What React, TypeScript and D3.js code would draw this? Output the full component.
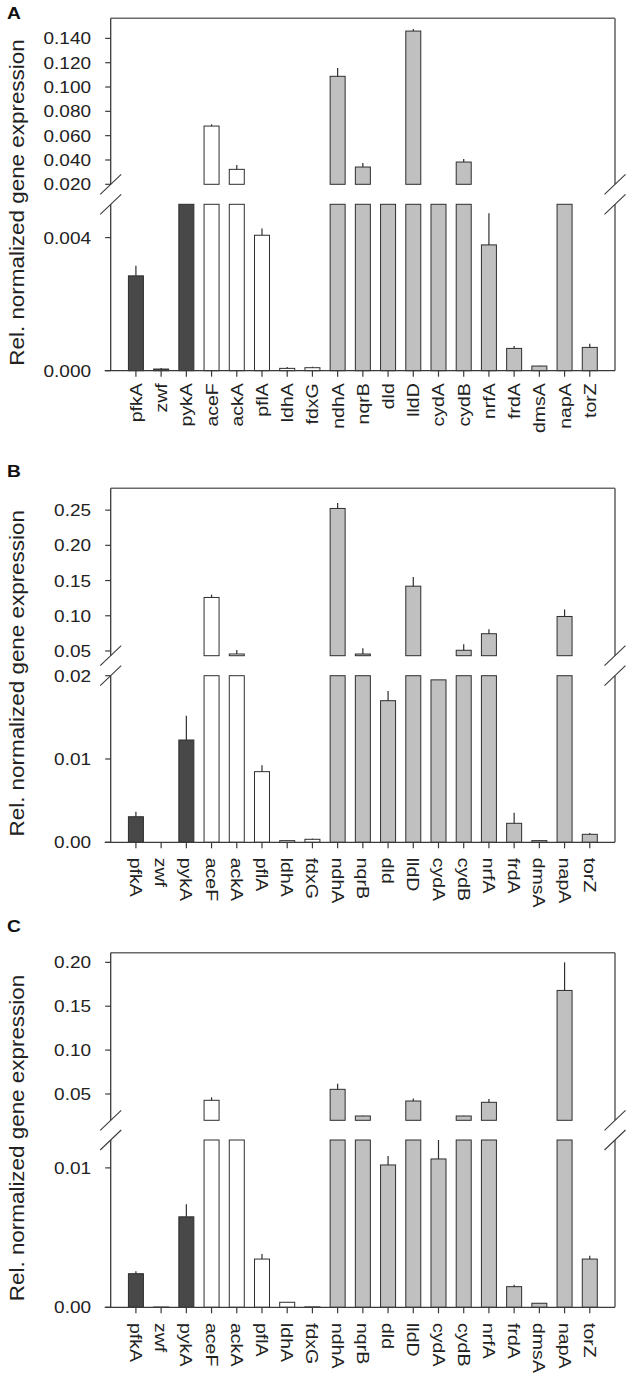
import React from "react";
import * as d3 from "d3";

// ---------- DATA ----------
const genes = ["pfkA","zwf","pykA","aceF","ackA","pflA","ldhA","fdxG","ndhA","nqrB","dld","lldD","cydA","cydB","nrfA","frdA","dmsA","napA","torZ"];
const geneGroup = ["dark","dark","dark","white","white","white","white","white","gray","gray","gray","gray","gray","gray","gray","gray","gray","gray","gray"];

const valuesA = [0.00285,0.00005,0.012,0.0679,0.0323,0.00407,0.00007,0.00009,0.1088,0.0342,0.010,0.146,0.012,0.0383,0.00378,0.00067,0.00014,0.015,0.0007];
const errorsA = [0.0003,0.00003,0.001,0.0014,0.0036,0.0002,0.00004,0.00003,0.0068,0.0033,0.001,0.0017,0.001,0.0025,0.00095,0.00007,0.00001,0.001,0.00011];

const valuesB = [0.00307,0,0.01228,0.126,0.0457,0.00848,0.0002,0.00036,0.2524,0.0457,0.017,0.142,0.0195,0.051,0.0745,0.00228,0.0002,0.099,0.00096];
const errorsB = [0.0006,0,0.0029,0.004,0.0057,0.00076,0.00003,0.00009,0.0076,0.0083,0.00116,0.013,0,0.0085,0.0065,0.00127,0.00002,0.010,0.00016];

const valuesC = [0.00241,0.00002,0.00649,0.0428,0.016,0.00346,0.00036,0.00003,0.0553,0.0249,0.01021,0.042,0.01064,0.0249,0.0405,0.00148,0.00029,0.168,0.00346];
const errorsC = [0.00017,0,0.0009,0.0034,0.001,0.00036,0.00002,0,0.0064,0.0006,0.00065,0.0028,0.0015,0.0004,0.0038,0.00014,0.00002,0.032,0.00024];

const upperTicksA = [0.02,0.04,0.06,0.08,0.10,0.12,0.14];
const lowerTicksA = [0,0.004];
const upperTicksB = [0.05,0.10,0.15,0.20,0.25];
const lowerTicksB = [0,0.01,0.02];
const upperTicksC = [0.05,0.10,0.15,0.20];
const lowerTicksC = [0,0.01];

const upperDomainA = [0.02, 0.1565];
const lowerDomainA = [0, 0.005];
const upperDomainB = [0.0433, 0.281];
const lowerDomainB = [0, 0.02];
const upperDomainC = [0.02, 0.211];
const lowerDomainC = [0, 0.012];

const panelLetters = ["A", "B", "C"];
const yTitle = "Rel. normalized gene expression";

// ---------- LAYOUT ----------
const W = 630, H = 1378;
const axisLeft = 110.7, axisRight = 615;
const fillOf: Record<string, string> = { dark: "#484848", white: "#ffffff", gray: "#c0c0c0" };
const STRETCH = 1.15;
const FONT = "'Liberation Sans', Arial, Helvetica, sans-serif";

const panels = [
  { letter: panelLetters[0], values: valuesA, errors: errorsA, upTicks: upperTicksA, loTicks: lowerTicksA,
    upDom: upperDomainA, loDom: lowerDomainA, fmtU: ".3f", fmtL: ".3f",
    up: [18.3, 184.3], lo: [204.3, 370.7], rot: -90, labelOff: 12.5, letterY: 19.5 },
  { letter: panelLetters[1], values: valuesB, errors: errorsB, upTicks: upperTicksB, loTicks: lowerTicksB,
    upDom: upperDomainB, loDom: lowerDomainB, fmtU: ".2f", fmtL: ".2f",
    up: [488.3, 655.7], lo: [675.7, 842.3], rot: 90, labelOff: 15.4, letterY: 477 },
  { letter: panelLetters[2], values: valuesC, errors: errorsC, upTicks: upperTicksC, loTicks: lowerTicksC,
    upDom: upperDomainC, loDom: lowerDomainC, fmtU: ".2f", fmtL: ".2f",
    up: [952.7, 1120.3], lo: [1140, 1307.3], rot: 90, labelOff: 15.7, letterY: 932 },
];

const x = d3.scalePoint<string>().domain(genes).range([axisLeft, axisRight]).padding(1);
const barW = 15;

function Panel({ p }: { p: typeof panels[number] }) {
  const yU = d3.scaleLinear().domain(p.upDom).range([p.up[1], p.up[0]]);
  const yL = d3.scaleLinear().domain(p.loDom).range([p.lo[1], p.lo[0]]);
  const fU = d3.format(p.fmtU);
  const fL = d3.format(p.fmtL);
  const frame = "#6a6a6a";
  const axisC = "#3a3a3a";
  const barStroke = "#2e2e2e";
  const center = (p.up[0] + p.lo[1]) / 2 + 8;

  const slash = (xx: number, yy: number, k: string) => (
    <line key={k} x1={xx - 10.5} y1={yy + 10} x2={xx + 10.5} y2={yy - 10} stroke={axisC} strokeWidth={1.1} />
  );

  return (
    <g>
      {/* panel letter */}
      <text x={7} y={p.letterY} fontFamily={FONT} fontWeight="bold" fontSize={16}
        transform={`translate(7,${p.letterY}) scale(1.2,1) translate(-7,${-p.letterY})`} fill="#111">{p.letter}</text>
      {/* y title */}
      <text transform={`translate(24,${center}) rotate(-90) scale(${STRETCH},1)`} textAnchor="middle"
        fontFamily={FONT} fontSize={19.5} fill="#222">{yTitle}</text>

      {/* bars */}
      {genes.map((g, i) => {
        const v = p.values[i];
        const e = p.errors[i];
        const cx = x(g)!;
        const fill = fillOf[geneGroup[i]];
        const out: React.ReactNode[] = [];
        if (v > 0) {
          const tl = Math.min(v, p.loDom[1]);
          out.push(<rect key="l" x={cx - barW / 2} y={yL(tl)} width={barW} height={Math.max(0, yL(0) - yL(tl))}
            fill={fill} stroke={barStroke} strokeWidth={1} />);
          if (v <= p.loDom[1] && e > 0) {
            out.push(<line key="el" x1={cx} x2={cx} y1={yL(v)} y2={yL(Math.min(v + e, p.loDom[1]))} stroke={barStroke} strokeWidth={1.2} />);
          }
          if (v > p.upDom[0]) {
            const tu = Math.min(v, p.upDom[1]);
            out.push(<rect key="u" x={cx - barW / 2} y={yU(tu)} width={barW} height={Math.max(0, yU(p.upDom[0]) - yU(tu))}
              fill={fill} stroke={barStroke} strokeWidth={1} />);
            if (e > 0) {
              out.push(<line key="eu" x1={cx} x2={cx} y1={yU(v)} y2={yU(Math.min(v + e, p.upDom[1]))} stroke={barStroke} strokeWidth={1.2} />);
            }
          }
        }
        return <g key={g}>{out}</g>;
      })}

      {/* frame */}
      <line x1={axisLeft} x2={axisRight} y1={p.up[0]} y2={p.up[0]} stroke={frame} strokeWidth={1.6} />
      <line x1={axisRight} x2={axisRight} y1={p.up[0]} y2={p.up[1]} stroke={frame} strokeWidth={1.6} />
      <line x1={axisRight} x2={axisRight} y1={p.lo[0]} y2={p.lo[1]} stroke={frame} strokeWidth={1.6} />
      <line x1={axisLeft} x2={axisLeft} y1={p.up[0]} y2={p.up[1]} stroke={axisC} strokeWidth={1.3} />
      <line x1={axisLeft} x2={axisLeft} y1={p.lo[0]} y2={p.lo[1]} stroke={axisC} strokeWidth={1.3} />
      <line x1={axisLeft - 6} x2={axisRight} y1={p.lo[1]} y2={p.lo[1]} stroke={axisC} strokeWidth={1.3} />
      {slash(axisLeft, p.up[1], "s1")}
      {slash(axisLeft, p.lo[0], "s2")}
      {slash(axisRight, p.up[1], "s3")}
      {slash(axisRight, p.lo[0], "s4")}

      {/* y ticks */}
      {p.upTicks.map((t) => (
        <g key={"u" + t}>
          <line x1={axisLeft - 5.5} x2={axisLeft} y1={yU(t)} y2={yU(t)} stroke={axisC} strokeWidth={1.2} />
          <text transform={`translate(91,${yU(t)}) scale(${STRETCH},1)`} textAnchor="end" dy="0.36em"
            fontFamily={FONT} fontSize={16.5} fill="#222">{fU(t)}</text>
        </g>
      ))}
      {p.loTicks.map((t) => (
        <g key={"l" + t}>
          <line x1={axisLeft - 5.5} x2={axisLeft} y1={yL(t)} y2={yL(t)} stroke={axisC} strokeWidth={1.2} />
          <text transform={`translate(91,${yL(t)}) scale(${STRETCH},1)`} textAnchor="end" dy="0.36em"
            fontFamily={FONT} fontSize={16.5} fill="#222">{fL(t)}</text>
        </g>
      ))}

      {/* x ticks & labels */}
      {genes.map((g) => {
        const cx = x(g)!;
        const ly = p.lo[1] + p.labelOff;
        return (
          <g key={"x" + g}>
            <line x1={cx} x2={cx} y1={p.lo[1]} y2={p.lo[1] + 6} stroke={axisC} strokeWidth={1.2} />
            <text transform={`translate(${cx},${ly}) rotate(${p.rot}) scale(${STRETCH},1)`}
              textAnchor={p.rot < 0 ? "end" : "start"} dy="0.35em"
              fontFamily={FONT} fontSize={17} fill="#222">{g}</text>
          </g>
        );
      })}
    </g>
  );
}

export default function App() {
  return (
    <svg width={W} height={H} viewBox={`0 0 ${W} ${H}`}
      style={{ position: "absolute", left: 0, top: 0, background: "#fff" }}>
      <rect x={0} y={0} width={W} height={H} fill="#fff" />
      {panels.map((p) => <Panel key={p.letter} p={p} />)}
    </svg>
  );
}
